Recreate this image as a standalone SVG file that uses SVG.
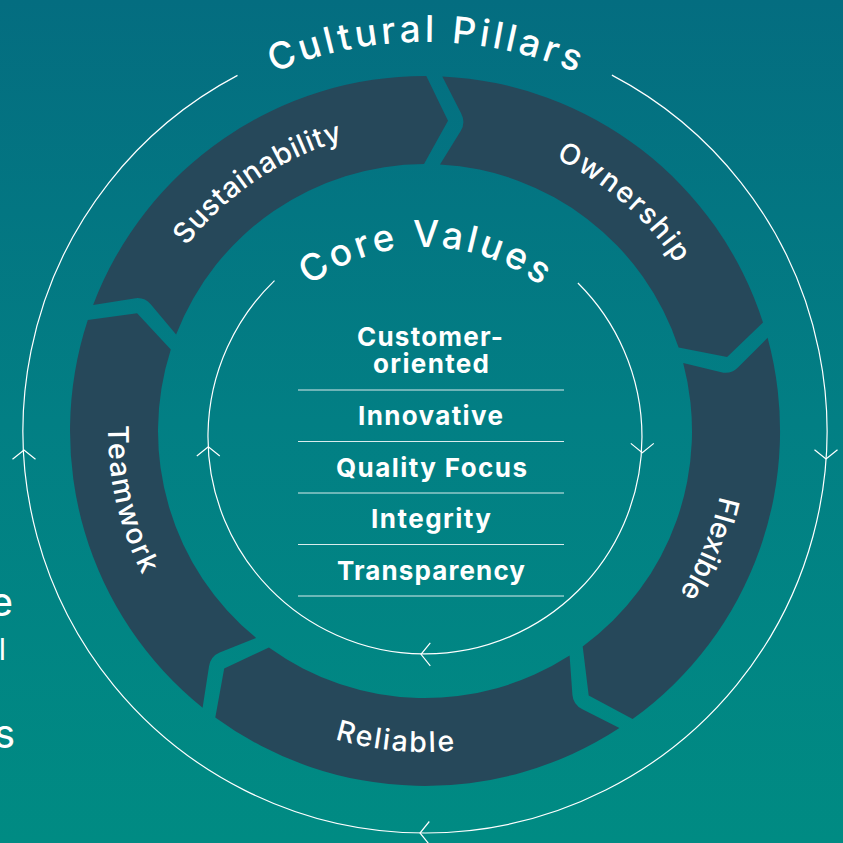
<svg xmlns="http://www.w3.org/2000/svg" xmlns:xlink="http://www.w3.org/1999/xlink" width="843" height="843" viewBox="0 0 843 843">
  <defs>
    <linearGradient id="bg" x1="0" y1="0" x2="0" y2="843" gradientUnits="userSpaceOnUse">
      <stop offset="0" stop-color="#046d80"/>
      <stop offset="0.5" stop-color="#027f84"/>
      <stop offset="1" stop-color="#008b83"/>
    </linearGradient>
    <path id="chev" d="M-11.5,9.3 L0,0 L11.5,9.3"/>
    <path id="arcCultural" d="M149.9,155.9 A389,389 0 0 1 700.1,155.9"/>
    <path id="arcCore" d="M290.6,302.6 A190,190 0 0 1 559.4,302.6"/>
    <path id="arcSust" d="M153.6,298.6 A302,302 0 0 1 403.9,129.7"/>
    <path id="arcOwn" d="M482.6,134.6 A302,302 0 0 1 710.5,332.7"/>
    <path id="arcFlex" d="M724.4,391.6 A302,302 0 0 1 608.9,670.6"/>
    <path id="arcRel" d="M238.6,692.3 A321,321 0 0 0 558.1,723.1"/>
    <path id="arcTeam" d="M121.9,338.3 A317,317 0 0 0 193.1,647.2"/>
  </defs>
  <style>
    .seg { fill: #26485a; }
    .thin { fill: none; stroke: #ffffff; stroke-width: 1.2; }
    .arrow { fill: none; stroke: #ffffff; stroke-width: 1.2; stroke-linejoin: miter; }
    .title { font-family: Inter, "Open Sans", "Liberation Sans", sans-serif; font-size: 37px; font-weight: 500; fill: #ffffff; }
    .label { font-family: Inter, "Open Sans", "Liberation Sans", sans-serif; font-size: 28.5px; font-weight: 500; fill: #ffffff; }
    .value { font-family: Inter, "Open Sans", "Liberation Sans", sans-serif; font-size: 26px; font-weight: 700; fill: #ffffff; text-anchor: middle; }
    .rule { stroke: #ffffff; stroke-opacity: 0.85; stroke-width: 1; }
    .frag { font-family: Inter, "Open Sans", "Liberation Sans", sans-serif; font-size: 40px; font-weight: 400; fill: #ffffff; text-anchor: end; }
  </style>

  <rect x="0" y="0" width="843" height="843" fill="url(#bg)"/>

  <!-- connectors: cycle circles with arrowheads -->
  <g id="connectors">
    <path class="thin" d="M611.9,75.1 A402,402 0 1 1 237.5,75.4"/>
    <use href="#chev" class="arrow" transform="translate(24,450)"/>
    <use href="#chev" class="arrow" transform="translate(826,459) rotate(180)"/>
    <use href="#chev" class="arrow" transform="translate(420,833) rotate(-90)"/>
    <path class="thin" d="M577.9,283 A217,217 0 1 1 274.5,280.6"/>
    <use href="#chev" class="arrow" transform="translate(208.3,446.7)"/>
    <use href="#chev" class="arrow" transform="translate(642.3,452.7) rotate(180)"/>
    <use href="#chev" class="arrow" transform="translate(421,654.3) rotate(-90)"/>
  </g>

  <g id="title-cultural-pillars">
    <text class="title"><textPath href="#arcCultural" startOffset="50%" text-anchor="middle" textLength="311" lengthAdjust="spacing">Cultural Pillars</textPath></text>
  </g>

  <g id="pillar-sustainability">
    <path class="seg" d="M93.1,305 A355,355 0 0 1 426.3,76 L448,120.8 L424,164 A267,267 0 0 0 176.1,334.4 L150.7,304.3 Q144.4,296.8 134.1,298.4 Z"/>
    <text class="label"><textPath href="#arcSust" startOffset="50%" text-anchor="middle" textLength="192" lengthAdjust="spacing">Sustainability</textPath></text>
  </g>

  <g id="pillar-ownership">
    <path class="seg" d="M442.3,76.4 A355,355 0 0 1 763,322.5 L727.1,357 L678.6,347.5 A267,267 0 0 0 440,164.4 L460.7,131 Q465.9,122.7 461.2,113.4 Z"/>
    <text class="label"><textPath href="#arcOwn" startOffset="50%" text-anchor="middle" textLength="162" lengthAdjust="spacing">Ownership</textPath></text>
  </g>

  <g id="pillar-flexible">
    <path class="seg" d="M767.6,337.8 A355,355 0 0 1 632.6,719 L588.7,695.4 L582.7,646.4 A267,267 0 0 0 683.2,362.9 L721.3,372.3 Q730.8,374.6 738.2,367.2 Z"/>
    <text class="label"><textPath href="#arcFlex" startOffset="50%" text-anchor="middle" textLength="106" lengthAdjust="spacing">Flexible</textPath></text>
  </g>

  <g id="pillar-reliable">
    <path class="seg" d="M619.4,728 A355,355 0 0 1 215.3,717.4 L224.2,668.4 L268.9,647.6 A267,267 0 0 0 569.6,655.5 L572.4,694.7 Q573.1,704.5 582.4,709.2 Z"/>
    <text class="label"><textPath href="#arcRel" startOffset="50%" text-anchor="middle" textLength="121" lengthAdjust="spacing">Reliable</textPath></text>
  </g>

  <g id="pillar-teamwork">
    <path class="seg" d="M202.6,707.7 A355,355 0 0 1 87.8,320.1 L137.1,313.3 L170.8,349.5 A267,267 0 0 0 256.1,637.9 L219.7,652.6 Q210.6,656.3 209,666.6 Z"/>
    <text class="label"><textPath href="#arcTeam" startOffset="50%" text-anchor="middle" textLength="155" lengthAdjust="spacing">Teamwork</textPath></text>
  </g>

  <g id="title-core-values">
    <text class="title"><textPath href="#arcCore" startOffset="50%" text-anchor="middle" textLength="248" lengthAdjust="spacing">Core Values</textPath></text>
  </g>

  <g id="core-values-list">
    <text class="value" x="430" y="346" textLength="146" lengthAdjust="spacing">Customer-</text>
    <text class="value" x="431" y="373" textLength="116" lengthAdjust="spacing">oriented</text>
    <line class="rule" x1="298" y1="390" x2="564" y2="390"/>
    <text class="value" x="430.5" y="425" textLength="145" lengthAdjust="spacing">Innovative</text>
    <line class="rule" x1="298" y1="441.5" x2="564" y2="441.5"/>
    <text class="value" x="431.5" y="476.5" textLength="191" lengthAdjust="spacing">Quality Focus</text>
    <line class="rule" x1="298" y1="493" x2="564" y2="493"/>
    <text class="value" x="431" y="528" textLength="120" lengthAdjust="spacing">Integrity</text>
    <line class="rule" x1="298" y1="544.5" x2="564" y2="544.5"/>
    <text class="value" x="431" y="579.5" textLength="188" lengthAdjust="spacing">Transparency</text>
    <line class="rule" x1="298" y1="596" x2="564" y2="596"/>
  </g>

  <g id="cropped-side-text">
    <text class="frag" x="13" y="616">e</text>
    <text class="frag" x="6" y="660" style="font-size:30px">l</text>
    <text class="frag" x="15" y="748">s</text>
  </g>
</svg>
